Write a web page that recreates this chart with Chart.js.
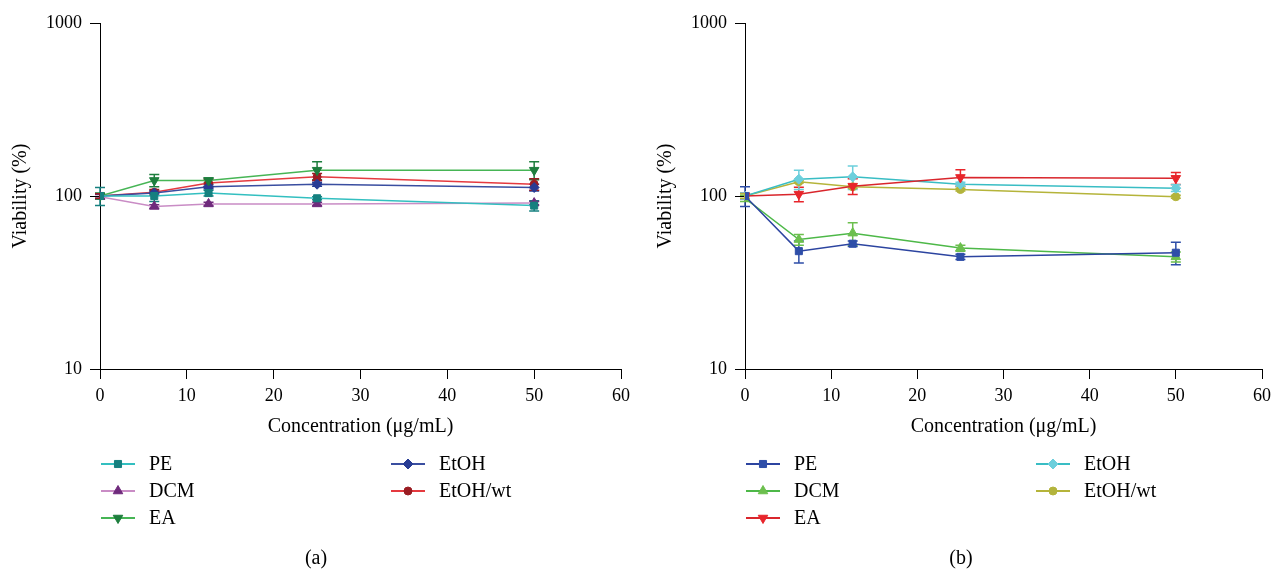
<!DOCTYPE html>
<html>
<head>
<meta charset="utf-8">
<script src="https://cdn.jsdelivr.net/npm/chart.js@4.4.1/dist/chart.umd.min.js"></script>
<style>
  html, body { margin: 0; padding: 0; background: #fff; }
  #wrap { position: relative; width: 1277px; height: 569px; }
  #chartA { position: absolute; left: 0; top: 0; }
  #chartB { position: absolute; left: 645px; top: 0; }
</style>
</head>
<body>
<div id="wrap">
  <canvas id="chartA" width="638" height="569"></canvas>
  <canvas id="chartB" width="632" height="569"></canvas>
</div>
<script>
// concentrations (ug/mL)
const conc = [0, 6.25, 12.5, 25, 50];
const yTicks = [10, 100, 1000];
const seriesNames = ["PE", "DCM", "EA", "EtOH", "EtOH/wt"];

// panel (a) viability (%)
const a_PE = [100, 100, 104, 97, 88];
const a_DCM = [99, 87, 90, 90, 91];
const a_EA = [100, 123, 123, 141, 141];
const a_EtOH = [100, 104, 113, 117, 112];
const a_EtOHwt = [100, 105, 119, 129, 117];
// panel (a) error (+/-)
const a_PE_err = [12, 7, 4, 2, 6];
const a_DCM_err = [3, 2, 2, 2, 2];
const a_EA_err = [4, 10, 4, 17, 17];
const a_EtOH_err = [3, 3, 3, 3, 5];
const a_EtOHwt_err = [3, 4, 6, 6, 9];

// panel (b) viability (%)
const b_PE = [100, 48, 53, 44.5, 47];
const b_DCM = [97, 56, 61, 50, 44.5];
const b_EA = [100, 102.5, 114, 128, 126.5];
const b_EtOH = [100, 125, 129, 117, 111];
const b_EtOHwt = [100, 121, 113, 109, 99];
// panel (b) error (+/-)
const b_PE_err = [13, 7, 2, 1.5, 7];
const b_DCM_err = [4, 4, 9, 2, 3];
const b_EA_err = [4, 10, 12, 14, 10];
const b_EtOH_err = [4, 16, 20, 3, 5];
const b_EtOHwt_err = [3, 2, 2, 2, 2];

const FONT = "'Liberation Serif', 'Times New Roman', serif";
Chart.defaults.font.family = FONT;
Chart.defaults.color = "#000";

function drawMarker(ctx, style, x, y, r, rot) {
  ctx.beginPath();
  if (style === "circle") {
    ctx.arc(x, y, r, 0, Math.PI * 2);
  } else if (style === "rect") {
    const s = r * Math.SQRT1_2;
    ctx.rect(x - s, y - s, 2 * s, 2 * s);
  } else if (style === "rectRot") {
    ctx.moveTo(x, y - r); ctx.lineTo(x + r, y); ctx.lineTo(x, y + r); ctx.lineTo(x - r, y);
    ctx.closePath();
  } else {
    let rad = (rot || 0) * Math.PI / 180;
    for (let k = 0; k < 3; k++) {
      const px = x + Math.sin(rad) * r, py = y - Math.cos(rad) * r;
      k === 0 ? ctx.moveTo(px, py) : ctx.lineTo(px, py);
      rad += Math.PI * 2 / 3;
    }
    ctx.closePath();
  }
  ctx.fill();
  ctx.stroke();
}

// vertical error bars with caps, drawn under the markers
const errorBars = {
  id: "errorBars",
  beforeDatasetsDraw(chart) {
    const ctx = chart.ctx;
    const yScale = chart.scales.y;
    chart.data.datasets.forEach((ds, i) => {
      const meta = chart.getDatasetMeta(i);
      ctx.save();
      ctx.strokeStyle = ds.pointBackgroundColor;
      ctx.lineWidth = 1.5;
      meta.data.forEach((pt, j) => {
        const e = ds.errors[j];
        if (!e) return;
        const v = ds.data[j].y;
        const top = yScale.getPixelForValue(v + e);
        const bot = yScale.getPixelForValue(v - e);
        ctx.beginPath();
        ctx.moveTo(pt.x, top); ctx.lineTo(pt.x, bot);
        ctx.moveTo(pt.x - 5, top); ctx.lineTo(pt.x + 5, top);
        ctx.moveTo(pt.x - 5, bot); ctx.lineTo(pt.x + 5, bot);
        ctx.stroke();
      });
      ctx.restore();
    });
  }
};

// two-column legend + panel caption
const legendAndCaption = {
  id: "legendAndCaption",
  afterDraw(chart, args, opts) {
    const ctx = chart.ctx;
    const left = chart.chartArea.left;
    const rows = [464, 491, 518];
    const cols = [0, 290];
    ctx.save();
    chart.data.datasets.forEach((ds, i) => {
      const cx = left + cols[i < 3 ? 0 : 1];
      const cy = rows[i % 3];
      ctx.strokeStyle = ds.borderColor;
      ctx.lineWidth = 2;
      ctx.beginPath();
      ctx.moveTo(cx + 1, cy); ctx.lineTo(cx + 35, cy);
      ctx.stroke();
      ctx.fillStyle = ds.pointBackgroundColor;
      ctx.strokeStyle = ds.pointBackgroundColor;
      ctx.lineWidth = 1;
      drawMarker(ctx, ds.pointStyle, cx + 18, cy, ds.pointRadius, ds.pointRotation);
      ctx.fillStyle = "#000";
      ctx.font = "20px " + FONT;
      ctx.textAlign = "left";
      ctx.textBaseline = "middle";
      ctx.fillText(ds.label, cx + 49, cy + 1);
    });
    ctx.textAlign = "center";
    ctx.fillText(opts.caption, 316, 559);
    ctx.restore();
  }
};

function makeSet(label, values, errs, lineColor, markerColor, style, rot, radius) {
  return {
    label: label,
    data: conc.map((c, i) => ({ x: c, y: values[i] })),
    errors: errs,
    borderColor: lineColor,
    borderWidth: 1.5,
    pointBackgroundColor: markerColor,
    pointBorderColor: markerColor,
    pointBorderWidth: 1,
    pointStyle: style,
    pointRotation: rot,
    pointRadius: radius,
    tension: 0,
    fill: false
  };
}

function axisGrid() {
  return { drawOnChartArea: false, drawTicks: true, tickLength: 10, color: "#000", lineWidth: 1 };
}

function buildChart(canvasId, datasets, caption, padRight) {
  return new Chart(document.getElementById(canvasId), {
    type: "line",
    data: { datasets: datasets },
    plugins: [errorBars, legendAndCaption],
    options: {
      responsive: false,
      animation: false,
      layout: { padding: { left: 0, right: padRight, top: 23, bottom: 130 } },
      plugins: {
        legend: { display: false },
        tooltip: { enabled: false },
        legendAndCaption: { caption: caption }
      },
      scales: {
        x: {
          type: "linear",
          min: 0,
          max: 60,
          ticks: { stepSize: 10, font: { size: 18 }, padding: 6, color: "#000" },
          grid: axisGrid(),
          border: { color: "#000", width: 1 },
          title: { display: true, text: "Concentration (μg/mL)", font: { size: 20 }, padding: 0, color: "#000" },
          afterFit(scale) { scale.height = 70; }
        },
        y: {
          type: "logarithmic",
          min: 10,
          max: 1000,
          afterBuildTicks(scale) { scale.ticks = yTicks.map(v => ({ value: v })); },
          ticks: { callback: v => String(v), font: { size: 18 }, padding: 8, color: "#000" },
          grid: axisGrid(),
          border: { color: "#000", width: 1 },
          title: { display: true, text: "Viability (%)", font: { size: 20 }, padding: { top: 9, bottom: 0 }, color: "#000" },
          afterFit(scale) { scale.width = 100; }
        }
      }
    }
  });
}

buildChart("chartA", [
  makeSet(seriesNames[0], a_PE, a_PE_err, "#33bfc0", "#15807f", "rect", 0, 5),
  makeSet(seriesNames[1], a_DCM, a_DCM_err, "#c98cc5", "#6f2a7c", "triangle", 0, 5.5),
  makeSet(seriesNames[2], a_EA, a_EA_err, "#46b555", "#1e7e3e", "triangle", 180, 5.5),
  makeSet(seriesNames[3], a_EtOH, a_EtOH_err, "#3a4ea0", "#283c94", "rectRot", 0, 5),
  makeSet(seriesNames[4], a_EtOHwt, a_EtOHwt_err, "#e53a3f", "#9a1c22", "circle", 0, 4)
], "(a)", 17);

buildChart("chartB", [
  makeSet(seriesNames[0], b_PE, b_PE_err, "#2c44a0", "#2e4ea8", "rect", 0, 5),
  makeSet(seriesNames[1], b_DCM, b_DCM_err, "#4db848", "#6cbf4e", "triangle", 0, 5.5),
  makeSet(seriesNames[2], b_EA, b_EA_err, "#d9262c", "#e8252b", "triangle", 180, 5.5),
  makeSet(seriesNames[3], b_EtOH, b_EtOH_err, "#39bdc4", "#6ccfdc", "rectRot", 0, 5),
  makeSet(seriesNames[4], b_EtOHwt, b_EtOHwt_err, "#b5b43a", "#b3b43c", "circle", 0, 4)
], "(b)", 11);
</script>
</body>
</html>
